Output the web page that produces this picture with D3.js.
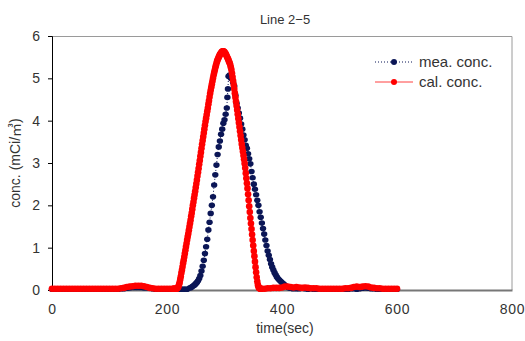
<!DOCTYPE html>
<html>
<head>
<meta charset="utf-8">
<script src="https://cdn.jsdelivr.net/npm/d3@7"></script>
<style>
  body { margin: 0; background: #fff; }
  svg text { font-family: "Liberation Sans", "Noto Sans CJK KR", sans-serif; fill: #333; }
</style>
</head>
<body>
<div id="chart"></div>
<script>
// measured series: sample times (sec) and concentration
const meaTime = [
    0, 5, 10, 15, 20, 25, 30, 35, 40, 45, 50, 55, 60, 65, 70, 75, 80, 85, 90, 95,
    100, 105, 110, 115, 120, 125, 130, 135, 140, 145, 150, 155, 160, 165, 170, 175,
    180, 185, 190, 195, 200, 205, 210, 215, 220, 225, 230, 235,
    240, 242, 244, 246, 248, 250, 252, 254, 256, 258, 260, 262, 264, 266, 268, 270,
    272, 274, 276, 278, 280, 282, 284, 286, 288, 290, 292, 294, 296, 298, 300, 302, 304,
    305, 306, 307,
    309, 311, 313, 315, 317, 319, 321, 323, 325, 327, 329, 331, 333, 335, 337, 339,
    341, 343, 345, 347, 349, 351, 353, 355, 357, 359, 361, 363, 365, 367, 369, 371,
    373, 375, 377, 379, 381, 383, 385, 387, 389, 391, 393, 395, 397, 399, 401, 403,
    405, 407, 409, 411, 413, 415, 417, 419,
    425, 430, 435, 440, 445, 450, 455, 460, 465, 470, 475, 480, 485, 490, 495, 500,
    505, 510, 515, 520, 525, 530, 535, 540, 545, 550, 555, 560, 565, 570, 575, 580,
    585, 590, 595, 600
];
const meaConc = [
    0.02, 0.02, 0.02, 0.02, 0.02, 0.02, 0.02, 0.02, 0.02, 0.02, 0.02, 0.02, 0.02, 0.02, 0.02, 0.02, 0.02, 0.02, 0.02, 0.02,
    0.02, 0.02, 0.02, 0.02, 0.03, 0.03, 0.04, 0.05, 0.06, 0.06, 0.06, 0.06, 0.05, 0.05, 0.04, 0.03,
    0.02, 0.02, 0.02, 0.02, 0.02, 0.02, 0.02, 0.02, 0.02, 0.02, 0.02, 0.02,
    0.05, 0.06, 0.08, 0.1, 0.12, 0.15, 0.18, 0.22, 0.27, 0.34, 0.45, 0.56, 0.7, 0.86, 1.02, 1.2,
    1.42, 1.6, 1.81, 2.0, 2.2, 2.48, 2.72, 2.95, 3.2, 3.38, 3.52, 3.68, 3.8, 3.94, 4.02, 4.15, 4.3,
    4.55, 4.75, 5.05,
    5.08, 5.0, 5.04, 4.9, 4.82, 4.6, 4.41, 4.3, 4.18, 4.06, 3.92, 3.8, 3.66, 3.55, 3.42, 3.35,
    3.22, 3.1, 2.98, 2.8, 2.65, 2.5, 2.38, 2.25, 2.12, 2.0, 1.85, 1.72, 1.58, 1.45, 1.32, 1.18,
    1.05, 0.92, 0.82, 0.72, 0.62, 0.54, 0.47, 0.41, 0.36, 0.31, 0.27, 0.24, 0.21, 0.19, 0.16, 0.14,
    0.11, 0.09, 0.08, 0.06, 0.05, 0.04, 0.04, 0.03,
    0.03, 0.03, 0.04, 0.03, 0.02, 0.03, 0.02, 0.02, 0.03, 0.02, 0.02, 0.02, 0.02, 0.02, 0.02, 0.02,
    0.03, 0.02, 0.02, 0.03, 0.03, 0.02, 0.03, 0.04, 0.05, 0.04, 0.03, 0.03, 0.02, 0.02, 0.02, 0.02,
    0.02, 0.02, 0.02, 0.02
];

// calculated series: sample times (sec) and concentration
const calTime = [
    0, 5, 10, 15, 20, 25, 30, 35, 40, 45, 50, 55, 60, 65, 70, 75, 80, 85, 90, 95,
    100, 105, 110, 115, 120, 125, 130, 135, 140, 145, 150, 155, 160, 165, 170, 175,
    180, 185, 190, 195, 200, 205, 210,
    211, 212, 213, 214, 215, 216, 217, 218, 219, 220,
    221, 222, 223, 224, 225, 226, 227, 228, 229, 230,
    231, 232, 233, 234, 235, 236, 237, 238, 239, 240,
    241, 242, 243, 244, 245, 246, 247, 248, 249, 250,
    251, 252, 253, 254, 255, 256, 257, 258, 259, 260,
    261, 262, 263, 264, 265, 266, 267, 268, 269, 270,
    271, 272, 273, 274, 275, 276, 277, 278, 279, 280,
    281, 282, 283, 284, 285, 286, 287, 288, 289, 290,
    291, 292, 293, 294, 295, 296, 297, 298, 299, 300,
    301, 302, 303, 304, 305, 306, 307, 308, 309, 310,
    311, 312, 313, 314, 315, 316, 317, 318, 319, 320,
    321, 322, 323, 324, 325, 326, 327, 328, 329, 330,
    331, 332, 333, 334, 335, 336, 337, 338, 339, 340,
    341, 342, 343, 344, 345, 346, 347, 348, 349, 350,
    351, 352, 353, 354, 355, 356, 357, 358, 359, 360,
    361, 362, 363, 364, 365,
    370, 375, 380, 385, 390, 395, 400, 405, 410, 415,
    420, 425, 430, 435, 440, 445, 450, 455, 460, 465,
    470, 475, 480, 485, 490, 495, 500, 505, 510, 515,
    520, 525, 530, 535, 540, 545, 550, 555, 560, 565,
    570, 575, 580, 585, 590, 595, 600
];
const calConc = [
    0.03, 0.03, 0.03, 0.03, 0.03, 0.03, 0.03, 0.03, 0.03, 0.03, 0.03, 0.03, 0.03, 0.03, 0.03, 0.03, 0.03, 0.03, 0.03, 0.03,
    0.03, 0.03, 0.03, 0.03, 0.04, 0.05, 0.07, 0.08, 0.09, 0.1, 0.1, 0.1, 0.09, 0.07, 0.05, 0.04,
    0.03, 0.03, 0.03, 0.03, 0.03, 0.03, 0.03,
    0.03, 0.03, 0.03, 0.03, 0.03, 0.03, 0.03, 0.04, 0.06, 0.08,
    0.13, 0.18, 0.25, 0.32, 0.4, 0.47, 0.55, 0.63, 0.7, 0.78,
    0.86, 0.94, 1.02, 1.1, 1.18, 1.26, 1.33, 1.41, 1.49, 1.57,
    1.65, 1.74, 1.82, 1.91, 2.0, 2.08, 2.17, 2.25, 2.33, 2.42,
    2.51, 2.6, 2.69, 2.78, 2.87, 2.97, 3.06, 3.16, 3.25, 3.35,
    3.44, 3.53, 3.62, 3.71, 3.8, 3.89, 3.98, 4.06, 4.14, 4.22,
    4.3, 4.39, 4.47, 4.56, 4.64, 4.72, 4.79, 4.86, 4.93, 5.0,
    5.07, 5.13, 5.19, 5.25, 5.3, 5.35, 5.4, 5.44, 5.47, 5.5,
    5.53, 5.56, 5.58, 5.6, 5.62, 5.63, 5.64, 5.64, 5.63, 5.62,
    5.6, 5.58, 5.55, 5.52, 5.49, 5.46, 5.43, 5.39, 5.36, 5.32,
    5.26, 5.2, 5.12, 5.03, 4.94, 4.85, 4.75, 4.65, 4.55, 4.45,
    4.35, 4.25, 4.15, 4.05, 3.95, 3.85, 3.75, 3.65, 3.55, 3.45,
    3.36, 3.27, 3.18, 3.09, 2.99, 2.88, 2.76, 2.64, 2.52, 2.4,
    2.26, 2.12, 1.98, 1.84, 1.7, 1.57, 1.44, 1.31, 1.18, 1.05,
    0.92, 0.8, 0.67, 0.54, 0.42, 0.3, 0.2, 0.12, 0.08, 0.05,
    0.04, 0.03, 0.03, 0.03, 0.03,
    0.03, 0.04, 0.04, 0.05, 0.05, 0.05, 0.06, 0.08, 0.08, 0.07,
    0.06, 0.07, 0.06, 0.05, 0.06, 0.05, 0.04, 0.04, 0.04, 0.03,
    0.03, 0.03, 0.03, 0.03, 0.03, 0.03, 0.03, 0.03, 0.04, 0.04,
    0.05, 0.07, 0.08, 0.07, 0.08, 0.09, 0.08, 0.06, 0.05, 0.04,
    0.04, 0.03, 0.03, 0.03, 0.03, 0.03, 0.03
];

const xTicks = [0, 200, 400, 600, 800];
const yTicks = [0, 1, 2, 3, 4, 5, 6];

const MARGIN = {top: 36, right: 13, bottom: 51, left: 52};
const fullWidth = 525, fullHeight = 341;
const width = fullWidth - MARGIN.left - MARGIN.right;
const height = fullHeight - MARGIN.top - MARGIN.bottom;

const svg = d3.select('#chart').append('svg')
    .attr('width', fullWidth)
    .attr('height', fullHeight);

const node = svg.append('g')
    .attr('transform', `translate(${MARGIN.left},${MARGIN.top})`);

const x = d3.scaleLinear().domain([0, 800]).range([0, width]);
const y = d3.scaleLinear().domain([0, 6]).range([height, 0]);

// plot frame (top & right)
node.append('path')
    .attr('d', `M0,0.5H${width}V${height}`)
    .attr('fill', 'none')
    .attr('stroke', '#9a9a9a')
    .attr('stroke-width', 1);

// x axis
const xAxis = node.append('g')
    .attr('transform', `translate(0,${height})`)
    .call(d3.axisBottom(x).tickValues(xTicks).tickSize(0).tickPadding(14));
xAxis.select('.domain').attr('stroke', '#777').attr('stroke-width', 2);
xAxis.selectAll('text')
    .style('font-size', '14px')
    .style('letter-spacing', '0.8px')
    .attr('fill', '#333');

// y axis
const yAxis = node.append('g')
    .call(d3.axisLeft(y).tickValues(yTicks).tickFormat(d3.format('d'))
        .tickSize(4).tickSizeOuter(4).tickPadding(8));
yAxis.select('.domain').attr('stroke', '#000');
yAxis.selectAll('.tick line').attr('stroke', '#000');
yAxis.selectAll('text')
    .style('font-size', '14px')
    .attr('fill', '#333');

const pts = (ts, vals) => ts.map((t, i) => ({x: t, y: vals[i]}));
const line = d3.line().x(d => x(d.x)).y(d => y(d.y));

// measured series
const meaPts = pts(meaTime, meaConc);
node.append('path')
    .datum(meaPts)
    .attr('fill', 'none')
    .attr('stroke', '#0b1656')
    .attr('stroke-width', 1)
    .attr('stroke-dasharray', '1,2')
    .attr('d', line);
node.append('g').selectAll('ellipse')
    .data(meaPts)
    .enter().append('ellipse')
    .attr('cx', d => x(d.x))
    .attr('cy', d => y(d.y))
    .attr('rx', 3.2)
    .attr('ry', 2.8)
    .attr('fill', '#0b1656');

// calculated series
const calPts = pts(calTime, calConc);
node.append('path')
    .datum(calPts)
    .attr('fill', 'none')
    .attr('stroke', '#ff0000')
    .attr('stroke-width', 1)
    .attr('d', line);
node.append('g').selectAll('circle')
    .data(calPts)
    .enter().append('circle')
    .attr('cx', d => x(d.x))
    .attr('cy', d => y(d.y))
    .attr('r', 3.3)
    .attr('fill', '#ff0000');

// legend
const legend = svg.append('g').attr('transform', 'translate(375,62)');
legend.append('line')
    .attr('x1', 0).attr('x2', 38).attr('y1', 0).attr('y2', 0)
    .attr('stroke', '#0b1656').attr('stroke-dasharray', '1,2');
legend.append('circle').attr('cx', 19).attr('cy', 0).attr('r', 3).attr('fill', '#0b1656');
legend.append('text').attr('x', 44).attr('y', 5).style('font-size', '15px').text('mea. conc.');
legend.append('line')
    .attr('x1', 0).attr('x2', 38).attr('y1', 20).attr('y2', 20)
    .attr('stroke', '#ff4040');
legend.append('circle').attr('cx', 19).attr('cy', 20).attr('r', 3).attr('fill', '#ff0000');
legend.append('text').attr('x', 44).attr('y', 25).style('font-size', '15px').text('cal. conc.');

// titles
svg.append('text')
    .attr('x', MARGIN.left + width / 2 + 3)
    .attr('y', 24)
    .attr('text-anchor', 'middle')
    .style('font-size', '13px')
    .text('Line 2\u22125');

svg.append('text')
    .attr('x', MARGIN.left + width / 2 + 3)
    .attr('y', 333)
    .attr('text-anchor', 'middle')
    .style('font-size', '14px')
    .text('time(sec)');

svg.append('text')
    .attr('transform', `translate(20,${MARGIN.top + height / 2}) rotate(-90)`)
    .attr('text-anchor', 'middle')
    .style('font-size', '14px')
    .text('conc. (mCi/㎥)');
</script>
</body>
</html>
